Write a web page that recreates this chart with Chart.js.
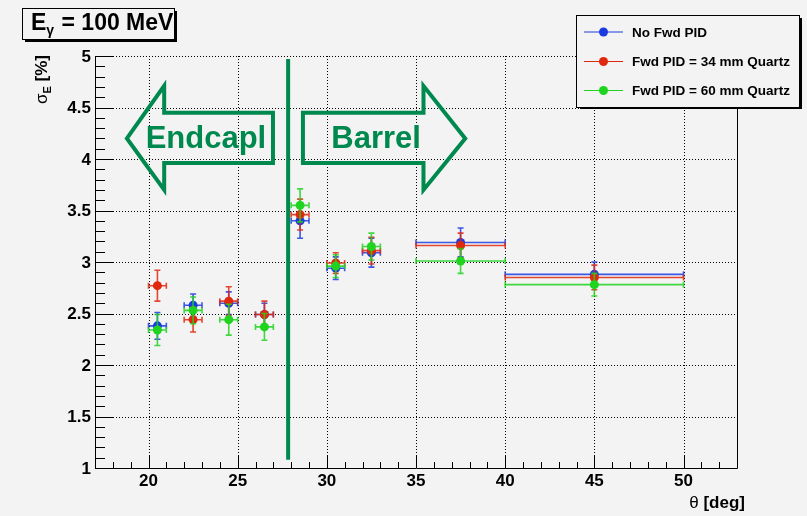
<!DOCTYPE html>
<html>
<head>
<meta charset="utf-8">
<script src="https://cdn.jsdelivr.net/npm/chart.js@4.4.1/dist/chart.umd.min.js"></script>
<style>
  html, body { margin: 0; padding: 0; background: #f3f3f3; }
  canvas { display: block; }
</style>
</head>
<body>
<canvas id="sigma-e" width="807" height="516"></canvas>
<script>
// theta bins [deg] and their half widths
const theta = [20.5, 22.5, 24.5, 26.5, 28.5, 30.5, 32.5, 37.5, 45];
const thetaErr = [0.5, 0.5, 0.5, 0.5, 0.5, 0.5, 0.5, 2.5, 5];

// sigma_E [%] for the three setups
const noFwdPid = [2.38, 2.58, 2.60, 2.49, 3.40, 2.94, 3.09, 3.19, 2.88];
const noFwdPidErr = [0.13, 0.11, 0.11, 0.11, 0.17, 0.11, 0.14, 0.14, 0.12];
const quartz34 = [2.77, 2.44, 2.62, 2.49, 3.46, 2.99, 3.11, 3.16, 2.85];
const quartz34Err = [0.15, 0.12, 0.14, 0.13, 0.15, 0.10, 0.13, 0.12, 0.12];
const quartz60 = [2.34, 2.53, 2.44, 2.37, 3.55, 2.96, 3.15, 3.01, 2.78];
const quartz60Err = [0.15, 0.13, 0.15, 0.13, 0.16, 0.11, 0.13, 0.12, 0.11];

const seriesNames = ['No Fwd PID', 'Fwd PID = 34 mm Quartz', 'Fwd PID = 60 mm Quartz'];
const seriesColors = ['#1b3be0', '#e0280e', '#1fd41f'];

const xTicks = [20, 25, 30, 35, 40, 45, 50];
const yTicks = [1, 1.5, 2, 2.5, 3, 3.5, 4, 4.5, 5];
const yTickLabels = ['1', '1.5', '2', '2.5', '3', '3.5', '4', '4.5', '5'];

// endcap / barrel boundary
const barrelEdge = 27.83;

const GREEN = '#00894f';
const FONT = '"Liberation Sans", Arial, sans-serif';

function points(ys, errs) {
  return theta.map((t, i) => ({ x: t, y: ys[i], xErr: thetaErr[i], yErr: errs[i] }));
}

const rootStyle = {
  id: 'rootStyle',

  beforeDraw(chart) {
    const ctx = chart.ctx;
    ctx.save();
    ctx.fillStyle = '#f3f3f3';
    ctx.fillRect(0, 0, chart.width, chart.height);
    ctx.restore();
  },

  beforeDatasetsDraw(chart) {
    const { ctx, chartArea: a, scales: { x, y } } = chart;
    ctx.save();
    // dotted grid
    ctx.strokeStyle = '#000';
    ctx.lineWidth = 1;
    ctx.setLineDash([1, 2]);
    ctx.beginPath();
    xTicks.forEach(v => {
      const px = Math.round(x.getPixelForValue(v)) + 0.5;
      ctx.moveTo(px, a.top); ctx.lineTo(px, a.bottom);
    });
    yTicks.slice(1).forEach(v => {
      const py = Math.round(y.getPixelForValue(v)) + 0.5;
      ctx.moveTo(a.left, py); ctx.lineTo(a.right, py);
    });
    ctx.stroke();
    ctx.setLineDash([]);

    // boundary line
    ctx.strokeStyle = GREEN;
    ctx.lineWidth = 4;
    ctx.beginPath();
    ctx.moveTo(x.getPixelForValue(barrelEdge), y.getPixelForValue(1.08));
    ctx.lineTo(x.getPixelForValue(barrelEdge), y.getPixelForValue(4.97));
    ctx.stroke();

    // arrows
    const P = (vx, vy) => [x.getPixelForValue(vx), y.getPixelForValue(vy)];
    const arrows = [
      [[18.79, 4.20], [20.88, 4.71], [20.88, 4.45], [26.98, 4.45], [26.98, 3.96], [20.88, 3.96], [20.88, 3.70]],
      [[37.76, 4.20], [35.42, 4.71], [35.42, 4.45], [28.66, 4.45], [28.66, 3.96], [35.42, 3.96], [35.42, 3.70]]
    ];
    ctx.lineWidth = 4;
    ctx.lineJoin = 'miter';
    arrows.forEach(pts => {
      ctx.beginPath();
      pts.forEach((p, i) => {
        const [px, py] = P(p[0], p[1]);
        if (i === 0) ctx.moveTo(px, py); else ctx.lineTo(px, py);
      });
      ctx.closePath();
      ctx.stroke();
    });
    ctx.fillStyle = GREEN;
    ctx.font = 'bold 31px ' + FONT;
    ctx.textAlign = 'center';
    ctx.textBaseline = 'middle';
    ctx.fillText('Endcapl', ...P(23.22, 4.19));
    ctx.fillText('Barrel', ...P(32.76, 4.19));
    ctx.restore();
  },

  beforeDatasetDraw(chart, args) {
    // error bars with end caps, drawn just under each series' markers
    const { ctx, scales: { x, y } } = chart;
    const ds = chart.data.datasets[args.index];
    ctx.save();
    ctx.strokeStyle = ds.backgroundColor;
    ctx.globalAlpha = 0.85;
    ctx.lineWidth = 1.6;
    ctx.beginPath();
    ds.data.forEach(p => {
      const px = x.getPixelForValue(p.x), py = y.getPixelForValue(p.y);
      const x0 = x.getPixelForValue(p.x - p.xErr), x1 = x.getPixelForValue(p.x + p.xErr);
      const y0 = y.getPixelForValue(p.y - p.yErr), y1 = y.getPixelForValue(p.y + p.yErr);
      ctx.moveTo(x0, py); ctx.lineTo(x1, py);
      ctx.moveTo(x0, py - 3); ctx.lineTo(x0, py + 3);
      ctx.moveTo(x1, py - 3); ctx.lineTo(x1, py + 3);
      ctx.moveTo(px, y0); ctx.lineTo(px, y1);
      ctx.moveTo(px - 3, y0); ctx.lineTo(px + 3, y0);
      ctx.moveTo(px - 3, y1); ctx.lineTo(px + 3, y1);
    });
    ctx.stroke();
    ctx.restore();
  },

  afterDraw(chart) {
    const { ctx, chartArea: a, scales: { x, y } } = chart;
    ctx.save();

    // frame
    ctx.strokeStyle = '#000';
    ctx.lineWidth = 1;
    ctx.beginPath();
    ctx.moveTo(a.left + 0.5, a.top); ctx.lineTo(a.left + 0.5, a.bottom + 0.5);
    ctx.lineTo(a.right + 0.5, a.bottom + 0.5); ctx.lineTo(a.right + 0.5, a.top);
    ctx.stroke();

    // ticks, pointing inwards
    ctx.beginPath();
    for (let v = 17; v <= 53; v++) {
      const px = Math.round(x.getPixelForValue(v)) + 0.5;
      const len = v % 5 === 0 ? 12 : 6;
      ctx.moveTo(px, a.bottom); ctx.lineTo(px, a.bottom - len);
    }
    for (let k = 10; k <= 50; k++) {
      const py = Math.round(y.getPixelForValue(k / 10)) + 0.5;
      const len = k % 5 === 0 ? 18 : 10;
      ctx.moveTo(a.left, py); ctx.lineTo(a.left + len, py);
    }
    ctx.stroke();

    // tick labels
    ctx.fillStyle = '#000';
    ctx.font = 'bold 17px ' + FONT;
    ctx.textAlign = 'center';
    ctx.textBaseline = 'middle';
    xTicks.forEach(v => ctx.fillText(String(v), x.getPixelForValue(v), 481));
    ctx.textAlign = 'right';
    yTicks.forEach((v, i) => ctx.fillText(yTickLabels[i], 91, y.getPixelForValue(v) + 1));

    // x title
    ctx.textBaseline = 'alphabetic';
    ctx.textAlign = 'left';
    ctx.font = 'bold 17px ' + FONT;
    const degText = ' [deg]';
    const degW = ctx.measureText(degText).width;
    ctx.fillText(degText, 745 - degW, 508);
    ctx.font = '17px ' + FONT;
    const thW = ctx.measureText('θ').width;
    ctx.fillText('θ', 745 - degW - thW, 508);

    // y title, rotated
    ctx.save();
    ctx.translate(47, 55);
    ctx.rotate(-Math.PI / 2);
    ctx.font = '17px ' + FONT;
    const sW = ctx.measureText('σ').width;
    ctx.font = 'bold 11px ' + FONT;
    const eW = ctx.measureText('E').width;
    ctx.font = 'bold 17px ' + FONT;
    const pW = ctx.measureText(' [%]').width;
    let cx = -(sW + eW + pW);
    ctx.font = '17px ' + FONT;
    ctx.fillText('σ', cx, 0); cx += sW;
    ctx.font = 'bold 11px ' + FONT;
    ctx.fillText('E', cx, 4); cx += eW;
    ctx.font = 'bold 17px ' + FONT;
    ctx.fillText(' [%]', cx, 0);
    ctx.restore();

    // title box
    ctx.fillStyle = '#000';
    ctx.fillRect(25, 39, 152, 3);
    ctx.fillRect(174, 11, 3, 31);
    ctx.fillStyle = '#f3f3f3';
    ctx.fillRect(22.5, 8.5, 152, 31);
    ctx.strokeRect(22.5, 8.5, 152, 31);
    ctx.fillStyle = '#000';
    ctx.font = 'bold 23px ' + FONT;
    ctx.fillText('E', 31, 30);
    let tx = 31 + ctx.measureText('E').width;
    ctx.font = 'bold 14px ' + FONT;
    ctx.fillText('γ', tx, 35);
    tx += ctx.measureText('γ').width + 1;
    ctx.font = 'bold 23px ' + FONT;
    ctx.fillText(' = 100 MeV', tx, 30);

    // legend
    ctx.fillRect(580, 106, 222, 3);
    ctx.fillRect(799, 18, 3, 91);
    ctx.fillStyle = '#f3f3f3';
    ctx.fillRect(576.5, 15.5, 223, 92);
    ctx.strokeRect(576.5, 15.5, 223, 92);
    const rows = [32, 61.5, 90.5];
    ctx.font = 'bold 13.5px ' + FONT;
    ctx.textBaseline = 'middle';
    seriesNames.forEach((name, i) => {
      ctx.strokeStyle = seriesColors[i];
      ctx.lineWidth = 1;
      ctx.beginPath();
      ctx.moveTo(584, rows[i]); ctx.lineTo(623, rows[i]);
      ctx.stroke();
      ctx.fillStyle = seriesColors[i];
      ctx.beginPath();
      ctx.arc(603.5, rows[i], 4.5, 0, Math.PI * 2);
      ctx.fill();
      ctx.fillStyle = '#000';
      ctx.fillText(name, 632, rows[i] + 1);
    });
    ctx.restore();
  }
};

new Chart(document.getElementById('sigma-e'), {
  type: 'scatter',
  data: {
    datasets: [
      { label: seriesNames[0], data: points(noFwdPid, noFwdPidErr), backgroundColor: seriesColors[0], order: 2 },
      { label: seriesNames[1], data: points(quartz34, quartz34Err), backgroundColor: seriesColors[1], order: 1 },
      { label: seriesNames[2], data: points(quartz60, quartz60Err), backgroundColor: seriesColors[2], order: 0 }
    ]
  },
  options: {
    responsive: false,
    animation: false,
    devicePixelRatio: 1,
    layout: { padding: { left: 95, right: 70, top: 56, bottom: 48 } },
    elements: { point: { radius: 4.5, borderWidth: 0, hoverRadius: 4.5 } },
    scales: {
      x: { type: 'linear', min: 17, max: 53, display: false },
      y: { type: 'linear', min: 1, max: 5, display: false }
    },
    plugins: { legend: { display: false }, tooltip: { enabled: false } }
  },
  plugins: [rootStyle]
});
</script>
</body>
</html>
